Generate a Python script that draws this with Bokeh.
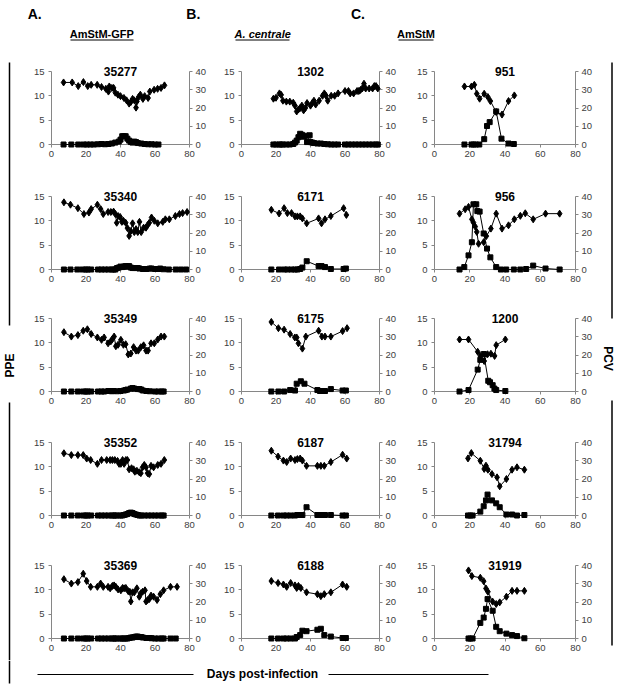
import math
from bokeh.plotting import figure
from bokeh.layouts import row, column
from bokeh.models import Range1d, LinearAxis, FixedTicker
from bokeh.embed import file_html
from bokeh.resources import INLINE
from bokeh.core.properties import value

FONT = "Liberation Sans"
AXIS_GREY = "#868686"
TICK_TXT = "#404040"

# ---------------- text / ticks ----------------
x_ticks = [0, 20, 40, 60, 80]
ppe_ticks = [0, 5, 10, 15]
pcv_ticks = [0, 10, 20, 30, 40]
column_letters = ["A.", "B.", "C."]
column_titles = ["AmStM-GFP", "A. centrale", "AmStM"]
left_label = "PPE"
right_label = "PCV"
x_label = "Days post-infection"

# ---------------- data (days, PCV %, PPE %) ----------------
# Column A: AmStM-GFP
a1_name = "35277"
a1_pcv_day = [7, 12, 15.5, 18.5, 21, 23, 26.5, 29, 31.5, 33, 33.5, 35, 36, 37, 38.5, 40, 42, 43.5, 45, 46, 47, 48, 49, 49.5, 50.5, 51.5, 53, 54, 56, 57, 59.5, 61.5, 63.5, 65.5]
a1_pcv = [34, 34, 32, 34.2, 32, 32.7, 32.7, 31.5, 30.5, 29, 31.8, 31, 31, 28.4, 27.3, 26.5, 25.5, 24.2, 22.4, 23.3, 25, 24.2, 20.2, 23.6, 26, 27.3, 25, 26.5, 25.5, 29, 30, 30.5, 31, 32.4]
a1_ppe_day = [7, 11.5, 15.5, 18.5, 20.5, 22.5, 24.5, 27, 29, 31, 33, 35, 37, 39, 40, 41, 42, 43, 44, 45, 46, 47, 48, 49, 50, 52, 54, 56, 58, 60, 62]
a1_ppe = [0, 0, 0, 0, 0, 0, 0, 0.05, 0.1, 0.05, 0.1, 0.2, 0.4, 0.6, 1.0, 1.7, 1.7, 1.7, 1.2, 0.8, 0.5, 0.4, 0.6, 0.5, 0.3, 0.2, 0.1, 0.05, 0.05, 0, 0]

a2_name = "35340"
a2_pcv_day = [7.2, 11, 15.3, 18.8, 21.7, 23, 26.6, 28.5, 30, 32.8, 34.4, 36, 37, 37.8, 38.6, 39.8, 40.8, 41.7, 43, 44, 45, 46, 47, 48, 49, 50, 51, 52, 53.4, 54.8, 55.7, 56.7, 58, 59.6, 61.6, 64.5, 66, 68.3, 71.8, 74.2, 76, 78.6]
a2_pcv = [36.8, 35.5, 33.6, 30.4, 31.2, 33.1, 35.5, 33.1, 30.4, 31.5, 31.5, 31.7, 30.4, 25.6, 29.3, 28.8, 26.1, 26.7, 25.6, 22.7, 18.4, 21.1, 25.3, 20.5, 22.1, 20.5, 26.1, 20.5, 22.9, 22.9, 24.3, 25.6, 28.5, 26.7, 25.3, 26.1, 27.5, 27.5, 29.3, 30.4, 30.9, 31.5]
a2_ppe_day = [7.2, 11, 15, 18, 20, 21, 23, 27, 29, 31, 33, 35, 36, 37, 38, 39, 40, 41, 42, 43, 44, 45, 46, 47, 48, 49, 50, 51, 53, 55, 57, 58, 60, 62, 63, 65, 68, 72, 75, 78]
a2_ppe = [0, 0, 0, 0, 0, 0, 0, 0, 0, 0, 0, 0, 0, 0, 0.3, 0.4, 0.6, 0.5, 0.6, 0.7, 0.6, 0.7, 0.4, 0.3, 0.3, 0.3, 0.3, 0.2, 0.1, 0.1, 0.2, 0.2, 0.1, 0.1, 0.2, 0.05, 0, 0, 0, 0]

a3_name = "35349"
a3_pcv_day = [7.2, 11.5, 15.3, 18.4, 20.8, 23, 26.6, 29, 30.5, 32.8, 34.4, 35.3, 36.3, 37.3, 38.6, 40.2, 41.7, 43, 44.5, 46, 47.6, 49, 50.3, 51.8, 53.4, 54.8, 56, 57.7, 59.6, 61.6, 63.5, 65.4]
a3_pcv = [32.5, 30.1, 30.9, 33.3, 34.1, 31.5, 29.6, 28.3, 29.6, 26.4, 27.5, 28.8, 30.1, 24.8, 25.6, 28.3, 25.6, 25.9, 20.3, 20.8, 24.3, 22.4, 22.4, 24.3, 25.3, 22.4, 22.4, 26.4, 26.4, 28.5, 30.1, 30.1]
a3_ppe_day = [7.2, 11.5, 15.3, 18.4, 20, 21, 23, 27, 29, 30.5, 33, 35, 36, 38, 40, 42, 43, 44, 46, 47, 48, 50, 51, 52, 53, 55, 57, 60, 62, 64, 65]
a3_ppe = [0, 0, 0, 0, 0, 0, 0, 0, 0, 0, 0.1, 0.05, 0.1, 0.05, 0.1, 0.2, 0.3, 0.4, 0.6, 0.7, 0.6, 0.5, 0.5, 0.4, 0.2, 0.1, 0.05, 0, 0, 0, 0]

a4_name = "35352"
a4_pcv_day = [7.2, 11.5, 15.3, 18.4, 20.4, 22.7, 26.6, 29, 32, 34, 35.3, 36.7, 38.3, 39.2, 40.2, 41.2, 42.1, 43.1, 44, 45, 46.4, 47.6, 48.3, 49.5, 50.9, 51.8, 52.8, 53.8, 54.8, 55.7, 56.7, 57.7, 59.2, 61.6, 63.5, 65.4]
a4_pcv = [34.1, 33.1, 33.1, 33.1, 31.2, 30.4, 28.3, 30.4, 30.4, 30.4, 30.4, 30.4, 29.9, 28.3, 28.3, 30.4, 28.3, 30.4, 30.4, 25.3, 25.9, 25.3, 24.0, 24.5, 23.7, 23.2, 26.4, 27.7, 26.4, 23.2, 22.7, 27.2, 26.4, 27.7, 28.3, 30.4]
a4_ppe_day = [7.2, 11.5, 15.3, 18.4, 20, 21, 23, 27, 29, 31, 33, 35, 36, 37, 38, 40, 41, 42, 43, 44, 45, 46, 47, 48, 49, 50, 51, 52, 54, 56, 58, 60, 62, 64, 65]
a4_ppe = [0, 0, 0, 0, 0, 0, 0, 0, 0, 0, 0, 0, 0, 0, 0, 0, 0, 0.1, 0.2, 0.3, 0.5, 0.6, 0.5, 0.3, 0.2, 0.1, 0, 0, 0, 0, 0, 0, 0, 0, 0]

a5_name = "35369"
a5_pcv_day = [7.2, 11.5, 15.3, 18.4, 20.4, 22.7, 26.6, 28.5, 30, 32.8, 34, 35.3, 36.3, 37.3, 38.6, 40.2, 41.2, 42.1, 43.1, 44.5, 45.4, 46, 47, 48, 49.5, 50.9, 51.8, 52.8, 54.2, 54.8, 55.7, 56.7, 57.7, 59.2, 61.2, 63.1, 65, 69, 72.8]
a5_pcv = [32.5, 30.1, 30.9, 35.5, 31.5, 28.3, 28.3, 30.1, 28.3, 28.3, 27.5, 28.8, 29.1, 28.3, 26.9, 26.4, 27.7, 27.5, 27.7, 25.9, 25.6, 20.3, 25.3, 25.3, 27.5, 22.9, 24.8, 25.6, 26.4, 20.3, 21.1, 21.6, 23.5, 22.9, 21.1, 24.3, 26.4, 28.3, 28.3]
a5_ppe_day = [7.2, 11.5, 15.3, 18.4, 20, 21, 23, 27, 29, 31, 33, 35, 36, 37, 38, 40, 41, 42, 43, 44, 45, 46, 47, 48, 49, 50, 51, 52, 53, 55, 57, 58, 60, 62, 64, 65, 69, 72]
a5_ppe = [0, 0, 0, 0, 0, 0, 0, 0, 0, 0, 0, 0, 0, 0, 0, 0, 0, 0, 0, 0, 0.1, 0.2, 0.2, 0.3, 0.4, 0.4, 0.3, 0.3, 0.2, 0.1, 0.1, 0.05, 0, 0, 0, 0, 0, 0]

# Column B: A. centrale
b1_name = "1302"
b1_pcv_day = [18.5, 20, 22, 23, 24, 26, 28, 30, 31, 32, 33, 34, 35, 36, 37, 38, 40, 41, 42, 43, 45, 47, 48, 49, 50, 52, 54, 56, 60, 62, 63, 65, 67, 68, 69, 70, 71, 72, 74, 76, 77, 78, 79]
b1_pcv = [25.1, 25.6, 28, 27.2, 24, 23.5, 23.5, 22.9, 21.3, 18.1, 19.2, 20, 21.3, 18.7, 20, 22.7, 21.3, 22.7, 24, 21.9, 24, 26.7, 28, 26.7, 24, 26.7, 26.7, 28, 29.3, 29.3, 28, 28, 29.3, 29.3, 29.9, 30.7, 33.3, 30.7, 30.7, 30.7, 32, 32, 30.7]
b1_ppe_day = [18.5, 20, 22, 23, 24, 26, 28, 30, 31, 32, 33, 34, 35, 36, 37, 38, 39.5, 40, 41, 42, 44, 46, 48, 50, 52, 54, 56, 60, 62, 64, 66, 68, 70, 72, 74, 76, 78, 79]
b1_ppe = [0, 0, 0, 0, 0, 0, 0, 0.1, 0.4, 0.8, 1.5, 2.2, 2.0, 1.6, 1.8, 0.5, 1.9, 0.5, 0.4, 0.3, 0.2, 0.2, 0.1, 0.05, 0, 0, 0, 0, 0, 0, 0, 0, 0, 0, 0, 0, 0, 0]

b2_name = "6171"
b2_pcv_day = [17.3, 21.8, 24.7, 26.6, 29, 31, 32.4, 34, 35.3, 37.8, 44.7, 46.4, 48.4, 51.8, 59.2, 60.8]
b2_pcv = [32.7, 30.7, 33.6, 30.9, 30.9, 29.1, 29.1, 29.1, 28, 25.3, 28, 25.3, 27.5, 29.3, 33.6, 29.9]
b2_ppe_day = [17.3, 21.8, 24.7, 26.6, 29, 31, 32.4, 34, 35.3, 37.8, 44.7, 46.4, 48.4, 51.8, 59.2, 60.5]
b2_ppe = [0, 0, 0, 0, 0, 0, 0, 0.1, 0.4, 1.7, 0.7, 0.7, 0.5, 0.1, 0.1, 0.2]

b3_name = "6175"
b3_pcv_day = [17.3, 21.4, 24.7, 28.2, 30.9, 32, 33, 35.3, 37.3, 44.7, 46.6, 48.4, 51.8, 58.6, 61.2]
b3_pcv = [38.1, 34.7, 33.9, 31.5, 29.6, 29.6, 26.4, 23.5, 30.1, 33.3, 30.1, 30.1, 30.1, 33.1, 34.7]
b3_ppe_day = [17.3, 21.4, 24.7, 28.2, 31, 32, 34.4, 36.5, 44, 45.5, 47, 48.4, 51.8, 58.6, 60.5]
b3_ppe = [0, 0, 0, 0.3, 0.2, 1.6, 2.1, 1.6, 0.3, 0.1, 0.1, 0.1, 0.5, 0.2, 0.2]

b4_name = "6187"
b4_pcv_day = [17.3, 21.2, 24.3, 26.2, 28.5, 31, 32.4, 34, 35.3, 37.7, 44, 46, 48, 51.8, 58.6, 61]
b4_pcv = [35.5, 32.3, 30.1, 29.3, 31.2, 30.4, 30.9, 31.2, 30.1, 27.2, 27.2, 27.2, 27.2, 29.3, 33.3, 31.2]
b4_ppe_day = [17.3, 21.2, 24.3, 26.2, 28.5, 31, 32.4, 34, 35.3, 37.7, 44, 45.5, 47, 48.4, 51.8, 58.6, 60.5]
b4_ppe = [0, 0, 0, 0, 0, 0, 0.1, 0.1, 0.1, 1.7, 0.1, 0.1, 0.1, 0.1, 0.1, 0, 0]

b5_name = "6188"
b5_pcv_day = [17.3, 21.2, 24.3, 26.2, 28.5, 31, 32, 33, 34.4, 37.7, 44, 46, 48, 51.8, 58.6, 61]
b5_pcv = [31.5, 30.4, 29.6, 28.3, 30.4, 29.1, 27.7, 28.8, 27.7, 25.3, 24.3, 23.2, 24.3, 25.3, 29.6, 28.3]
b5_ppe_day = [17.3, 21.2, 24.3, 26.2, 28.5, 31, 32, 34, 35.3, 37.7, 44, 46, 48, 51.8, 58.6, 60.5]
b5_ppe = [0, 0, 0, 0, 0, 0, 0.3, 0.7, 1.6, 1.5, 1.8, 2.0, 0.7, 0.4, 0.1, 0.1]

# Column C: AmStM
c1_name = "951"
c1_pcv_day = [17, 21, 22.6, 24, 25.6, 28.2, 30.3, 31.7, 35, 38.3, 42, 45.3]
c1_pcv = [31.8, 31.8, 32.7, 27.8, 25.1, 27.8, 26, 23.8, 17.8, 16.4, 23.8, 26.9]
c1_ppe_day = [17, 21, 22.2, 23.5, 25.4, 28.2, 29.8, 31.3, 35, 38, 42, 45]
c1_ppe = [0, 0, 0, 0, 0, 1.1, 3.8, 4.6, 6.8, 1.2, 0.2, 0.1]

c2_name = "956"
c2_pcv_day = [14.2, 17.4, 19.3, 21.2, 22.1, 23.1, 24, 25, 27.9, 29.4, 32, 35, 38.3, 42, 45.3, 48.7, 51.5, 56, 63, 71]
c2_pcv = [30.6, 33, 34.3, 27.5, 25.7, 23.5, 20.6, 14.1, 15, 18.3, 22.4, 30.6, 22.4, 24.2, 27.5, 29.4, 30.8, 27.5, 30.6, 30.6]
c2_ppe_day = [14.2, 16.9, 19.3, 21.2, 22.1, 23.7, 24.3, 25.6, 27.9, 29.8, 31.7, 35, 37.7, 40.7, 45, 48.7, 52, 56, 63, 71]
c2_ppe = [0, 0.5, 2.9, 5.6, 13.4, 13.4, 12, 11.9, 7.4, 4.3, 2.5, 0.5, 0, 0, 0, 0, 0.1, 0.8, 0.2, 0]

c3_name = "1200"
c3_pcv_day = [14.2, 19.3, 24.5, 26, 28.2, 30.1, 32, 34.1, 35, 40.2]
c3_pcv = [28.5, 28.5, 21.8, 19.5, 16.7, 20.4, 20.7, 19.5, 25.4, 28.5]
c3_ppe_day = [14.2, 19.3, 24.5, 26, 28, 30.5, 31.5, 33, 34, 35, 40.2]
c3_ppe = [0, 0.3, 4.5, 6.5, 7.7, 2.2, 1.9, 1.3, 0.6, 0.3, 0.1]

c4_name = "31794"
c4_pcv_day = [19, 20.9, 26, 28.2, 29.2, 30.3, 32.6, 35.5, 37, 40.8, 44, 46.8, 51]
c4_pcv = [31.3, 34.2, 30, 25.5, 27.3, 25.1, 22.7, 20.9, 16, 20, 25.1, 26.4, 25.1]
c4_ppe_day = [19, 20.3, 21.6, 26, 27.9, 29.2, 30.1, 32.6, 35, 37, 40.8, 44, 46.8, 51]
c4_ppe = [0, 0, 0, 0.8, 1.9, 3.1, 4.3, 3.1, 2.5, 1.7, 0.2, 0.2, 0, 0.1]

c5_name = "31919"
c5_pcv_day = [19.3, 21.2, 26, 27.9, 29.2, 30.3, 33, 35, 37, 40.8, 44, 46.8, 51]
c5_pcv = [37.3, 34.2, 33.3, 31.4, 27.4, 25.6, 20.2, 18.9, 19.8, 22.9, 26.1, 26.1, 26.1]
c5_ppe_day = [19.3, 20.3, 21.6, 26, 27.9, 29.2, 30.1, 33, 35, 37, 40.8, 44, 46.8, 51]
c5_ppe = [0, 0, 0, 3.2, 4.3, 6.1, 8.1, 5.7, 2.4, 1.5, 1.0, 0.7, 0.5, 0.05]

columns_data = [
    [(a1_name, a1_pcv_day, a1_pcv, a1_ppe_day, a1_ppe),
     (a2_name, a2_pcv_day, a2_pcv, a2_ppe_day, a2_ppe),
     (a3_name, a3_pcv_day, a3_pcv, a3_ppe_day, a3_ppe),
     (a4_name, a4_pcv_day, a4_pcv, a4_ppe_day, a4_ppe),
     (a5_name, a5_pcv_day, a5_pcv, a5_ppe_day, a5_ppe)],
    [(b1_name, b1_pcv_day, b1_pcv, b1_ppe_day, b1_ppe),
     (b2_name, b2_pcv_day, b2_pcv, b2_ppe_day, b2_ppe),
     (b3_name, b3_pcv_day, b3_pcv, b3_ppe_day, b3_ppe),
     (b4_name, b4_pcv_day, b4_pcv, b4_ppe_day, b4_ppe),
     (b5_name, b5_pcv_day, b5_pcv, b5_ppe_day, b5_ppe)],
    [(c1_name, c1_pcv_day, c1_pcv, c1_ppe_day, c1_ppe),
     (c2_name, c2_pcv_day, c2_pcv, c2_ppe_day, c2_ppe),
     (c3_name, c3_pcv_day, c3_pcv, c3_ppe_day, c3_ppe),
     (c4_name, c4_pcv_day, c4_pcv, c4_ppe_day, c4_ppe),
     (c5_name, c5_pcv_day, c5_pcv, c5_ppe_day, c5_ppe)],
]

# ---------------- layout geometry (px) ----------------
PAGE_W = 619
HEADER_H = 58
BOTTOM_H = 26
LEFT_W = 25
RIGHT_W = 22
col_widths = [190, 191, 191]
col_border_l = [26, 26, 28]
col_border_r = [26, 27, 22]
row_heights = [125, 122, 124, 123, 108]
BORDER_T = 5          # space above the frame
HEADROOM = 8          # frame pixels kept above the top tick (room for the panel title)
AXIS_H = 73           # pixel length of the 0..15 axis
MID_H = sum(row_heights)
PPE_MAX = 15
PCV_MAX = 40
top_factor = (AXIS_H + HEADROOM) / AXIS_H


def make_panel(name, pcv_day, pcv, ppe_day, ppe, w, h, bl, br):
    frame_h = AXIS_H + HEADROOM
    p = figure(width=w, height=h, x_range=Range1d(0, 80),
               y_range=Range1d(0, PPE_MAX * top_factor),
               output_backend="svg", toolbar_location=None,
               min_border_left=bl, min_border_right=br,
               min_border_top=BORDER_T, min_border_bottom=h - BORDER_T - frame_h)
    p.outline_line_color = None
    p.grid.visible = False
    p.background_fill_color = "white"
    p.border_fill_color = "white"
    p.xaxis.ticker = FixedTicker(ticks=x_ticks)
    p.yaxis.ticker = FixedTicker(ticks=ppe_ticks)
    p.yaxis.bounds = (0, PPE_MAX)
    p.extra_y_ranges = {"pcv": Range1d(0, PCV_MAX * top_factor)}
    ax_r = LinearAxis(y_range_name="pcv", ticker=FixedTicker(ticks=pcv_ticks), bounds=(0, PCV_MAX))
    p.add_layout(ax_r, "right")
    for ax in p.axis:
        ax.axis_line_color = AXIS_GREY
        ax.major_tick_line_color = AXIS_GREY
        ax.minor_tick_line_color = None
        ax.major_tick_in = 0
        ax.major_tick_out = 3
        ax.major_label_text_font = FONT
        ax.major_label_text_font_size = "9.5px"
        ax.major_label_text_color = TICK_TXT
    p.xaxis.major_label_standoff = 3
    p.left[0].major_label_standoff = 4
    ax_r.major_label_standoff = 3

    # PPE (squares, left axis)
    p.line(ppe_day, ppe, line_color="black", line_width=1, level="overlay")
    p.scatter(ppe_day, ppe, marker="square", size=5, color="black", level="overlay")
    # PCV (diamonds, right axis)
    p.line(pcv_day, pcv, line_color="black", line_width=1, y_range_name="pcv", level="overlay")
    p.scatter(pcv_day, pcv, marker="diamond", size=7, color="black", y_range_name="pcv", level="overlay")

    # panel title, centred on the top of the axes
    p.text(x=[40], y=[PPE_MAX], text=[name], text_align="center", text_baseline="middle",
           text_font=value(FONT), text_font_style="bold", text_font_size=value("12px"),
           text_color="black", level="overlay")
    return p


def make_deco(w, h):
    p = figure(width=w, height=h, x_range=Range1d(0, w), y_range=Range1d(h, 0),
               output_backend="svg", toolbar_location=None, min_border=0,
               min_border_left=0, min_border_right=0, min_border_top=0, min_border_bottom=0,
               x_axis_location=None, y_axis_location=None)
    p.outline_line_color = None
    p.grid.visible = False
    p.background_fill_color = "white"
    p.border_fill_color = "white"
    return p


# header
header = make_deco(PAGE_W, HEADER_H)
header.text(x=[34.2, 192.8, 357.5], y=[13, 13, 13], text=column_letters,
            text_font=value(FONT), text_font_size=value("14px"), text_font_style="bold",
            text_align="center", text_baseline="middle", text_color="black")
header.text(x=[101.3, 415.5], y=[33.4, 33.4], text=[column_titles[0], column_titles[2]],
            text_font=value(FONT), text_font_size=value("11px"), text_font_style="bold",
            text_align="center", text_baseline="middle", text_color="black")
header.text(x=[262.2], y=[33.4], text=[column_titles[1]],
            text_font=value(FONT), text_font_size=value("11px"), text_font_style="bold italic",
            text_align="center", text_baseline="middle", text_color="black")
header.segment(x0=[70, 235, 398], y0=[39.5, 39.5, 39.5], x1=[133, 289, 433], y1=[39.5, 39.5, 39.5],
               line_color="black", line_width=1)

# left / right side labels
left = make_deco(LEFT_W, MID_H)
left.segment(x0=[9, 9], y0=[4, 344], x1=[9, 9], y1=[267, MID_H], line_color="black", line_width=1.5)
left.text(x=[9], y=[307], text=[left_label], angle=math.pi / 2,
          text_font=value(FONT), text_font_size=value("12px"), text_font_style="bold",
          text_align="center", text_baseline="middle", text_color="black")

right = make_deco(RIGHT_W, MID_H)
right.segment(x0=[14.5, 14.5], y0=[4, 342], x1=[14.5, 14.5], y1=[260, 587], line_color="black", line_width=1.5)
right.text(x=[10], y=[300], text=[right_label], angle=-math.pi / 2,
           text_font=value(FONT), text_font_size=value("12px"), text_font_style="bold",
           text_align="center", text_baseline="middle", text_color="black")

# bottom
bottom = make_deco(PAGE_W, BOTTOM_H)
bottom.segment(x0=[9, 37, 328], y0=[0, 14, 14], x1=[9, 193, 488], y1=[23, 14, 14],
               line_color="black", line_width=[1.5, 1, 1])
bottom.text(x=[262], y=[13], text=[x_label],
            text_font=value(FONT), text_font_size=value("12px"), text_font_style="bold",
            text_align="center", text_baseline="middle", text_color="black")

cols = []
for ci, panels in enumerate(columns_data):
    figs = []
    for ri, (name, pd_, pv, qd, qv) in enumerate(panels):
        figs.append(make_panel(name, pd_, pv, qd, qv, col_widths[ci], row_heights[ri],
                               col_border_l[ci], col_border_r[ci]))
    cols.append(column(*figs, spacing=0))

mid = row(left, *cols, right, spacing=0)
page = column(header, mid, bottom, spacing=0)

open("out.html", "w").write(file_html(page, INLINE))
